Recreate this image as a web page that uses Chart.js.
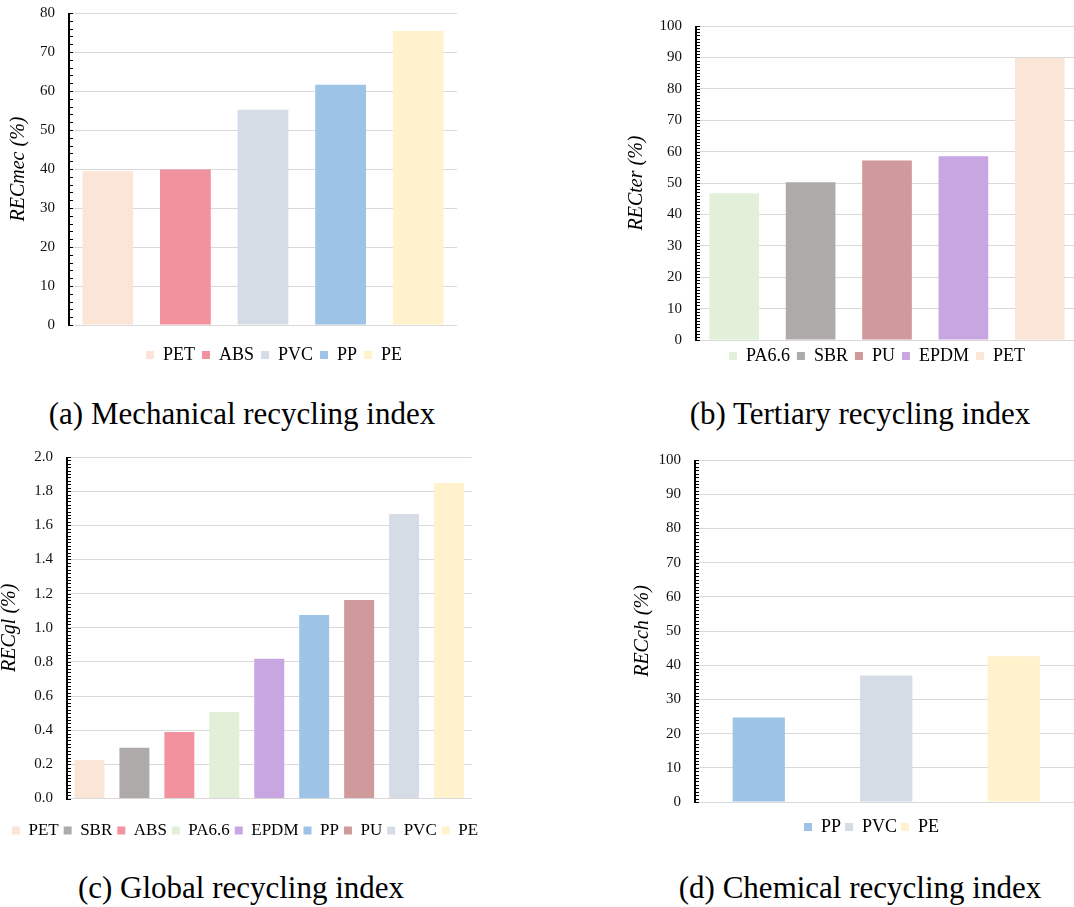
<!DOCTYPE html>
<html>
<head>
<meta charset="utf-8">
<script src="https://cdn.jsdelivr.net/npm/chart.js@4.4.1/dist/chart.umd.min.js"></script>
<style>
  html, body { margin: 0; padding: 0; background: #fff; }
  body { width: 1074px; height: 907px; position: relative; overflow: hidden; }
  canvas { position: absolute; }
  .cap {
    position: absolute; width: 600px; text-align: center;
    font-family: 'Liberation Serif', serif; font-size: 31px; color: #000;
    line-height: 36px;
  }
</style>
</head>
<body>
<canvas id="cMec" width="548" height="384" style="left:0px;top:-10px"></canvas>
<canvas id="cTer" width="554" height="375" style="left:600px;top:0px"></canvas>
<canvas id="cGl" width="494" height="415" style="left:-2px;top:434px"></canvas>
<canvas id="cCh" width="543" height="409" style="left:600px;top:437px"></canvas>

<div class="cap" style="left:-58px;top:396px">(a) Mechanical recycling index</div>
<div class="cap" style="left:560px;top:396px">(b) Tertiary recycling index</div>
<div class="cap" style="left:-59px;top:870px">(c) Global recycling index</div>
<div class="cap" style="left:560px;top:870px">(d) Chemical recycling index</div>

<script>
// (a) mechanical
const mecLabels = ['PET', 'ABS', 'PVC', 'PP', 'PE'];
const mecValues = [39.4, 39.9, 55.2, 61.6, 75.4];
// (b) tertiary
const terLabels = ['PA6.6', 'SBR', 'PU', 'EPDM', 'PET'];
const terValues = [46.7, 50.2, 57.2, 58.5, 89.8];
// (c) global
const glLabels = ['PET', 'SBR', 'ABS', 'PA6.6', 'EPDM', 'PP', 'PU', 'PVC', 'PE'];
const glValues = [0.225, 0.297, 0.39, 0.507, 0.818, 1.075, 1.163, 1.666, 1.848];
// (d) chemical
const chLabels = ['PP', 'PVC', 'PE'];
const chValues = [24.7, 37.0, 42.6];

const matColors = {
    'PET': '#FBE5D6',
    'ABS': '#F2929E',
    'PVC': '#D6DCE5',
    'PP': '#9DC3E6',
    'PE': '#FFF2CC',
    'PA6.6': '#E2F0D9',
    'SBR': '#AEAAAA',
    'PU': '#D0999B',
    'EPDM': '#C8A6E2'
};

const FONT = "'Liberation Serif', 'Times New Roman', serif";
Chart.defaults.font.family = FONT;

// y axis line plus the small tick marks on its inner side
const minorTicks = {
    id: 'minorTicks',
    afterDraw(chart) {
        const step = chart.options.plugins.minorTicks.step;
        const y = chart.scales.y;
        const ctx = chart.ctx;
        const x0 = Math.round(chart.chartArea.left);
        const n = Math.round((y.max - y.min) / step);
        ctx.save();
        ctx.strokeStyle = '#000';
        ctx.lineWidth = 1;
        for (let i = 0; i <= n; i++) {
            const py = Math.round(y.getPixelForValue(y.min + i * step)) + 0.5;
            ctx.beginPath();
            ctx.moveTo(x0, py);
            ctx.lineTo(x0 + 4, py);
            ctx.stroke();
        }
        ctx.lineWidth = 2;
        ctx.beginPath();
        ctx.moveTo(x0, Math.round(chart.chartArea.top));
        ctx.lineTo(x0, Math.round(chart.chartArea.bottom) + 1);
        ctx.stroke();
        ctx.restore();
    }
};

function makeChart(id, labels, values, o) {
    const colors = labels.map(l => matColors[l]);
    const ctx = document.getElementById(id).getContext('2d');
    return new Chart(ctx, {
        type: 'bar',
        data: {
            labels: labels,
            datasets: [{
                data: values,
                backgroundColor: colors,
                borderWidth: 0,
                categoryPercentage: 1,
                barPercentage: o.bar
            }]
        },
        options: {
            responsive: false,
            animation: false,
            layout: { padding: { top: o.top, left: 0, right: 0, bottom: 0 } },
            plugins: {
                tooltip: { enabled: false },
                minorTicks: { step: o.minor },
                legend: {
                    position: 'bottom',
                    labels: {
                        boxWidth: 8,
                        boxHeight: 8,
                        padding: o.legPad,
                        color: '#595959',
                        font: { family: FONT, size: o.legFont },
                        generateLabels: () => labels.map((l, i) => ({
                            text: l,
                            fillStyle: colors[i],
                            strokeStyle: colors[i],
                            lineWidth: 0,
                            hidden: false,
                            index: i
                        }))
                    }
                }
            },
            scales: {
                x: {
                    display: true,
                    ticks: { display: false },
                    grid: { display: false },
                    border: { display: false },
                    afterFit: s => { s.height = o.gap; }
                },
                y: {
                    min: 0,
                    max: o.max,
                    ticks: {
                        stepSize: o.step,
                        padding: 14,
                        color: '#111',
                        font: { family: FONT, size: 15 },
                        callback: v => o.dec ? v.toFixed(o.dec) : v
                    },
                    grid: { color: '#d9d9d9', lineWidth: 1, drawTicks: false },
                    border: { display: false },
                    title: {
                        display: true,
                        text: o.title,
                        color: '#000',
                        padding: { top: o.titlePad, bottom: 0 },
                        font: { family: FONT, size: 20, style: 'italic' }
                    },
                    afterFit: s => { s.width = o.yWidth; }
                },
                yr: {
                    position: 'right',
                    display: true,
                    ticks: { display: false },
                    grid: { display: false },
                    border: { display: false },
                    afterFit: s => { s.width = o.rWidth; }
                }
            }
        },
        plugins: [minorTicks]
    });
}

makeChart('cMec', mecLabels, mecValues, {
    bar: 0.654, top: 22, max: 80, step: 10, minor: 2, title: 'RECmec (%)',
    titlePad: 7, yWidth: 69, rWidth: 91, gap: 14, legFont: 18, legPad: 7
});
makeChart('cTer', terLabels, terValues, {
    bar: 0.65, top: 26, max: 100, step: 10, minor: 1, title: 'RECter (%)',
    titlePad: 25, yWidth: 96, rWidth: 76, gap: 0, legFont: 18, legPad: 7
});
makeChart('cGl', glLabels, glValues, {
    bar: 0.667, top: 22, max: 2, step: 0.2, minor: 0.02, dec: 1, title: 'RECgl (%)',
    titlePad: 0, yWidth: 69, rWidth: 20.5, gap: 18.5, legFont: 17, legPad: 5
});
makeChart('cCh', chLabels, chValues, {
    bar: 0.41, top: 22, max: 100, step: 10, minor: 1, title: 'RECch (%)',
    titlePad: 31, yWidth: 95, rWidth: 65.5, gap: 12, legFont: 18, legPad: 4
});
</script>
</body>
</html>
